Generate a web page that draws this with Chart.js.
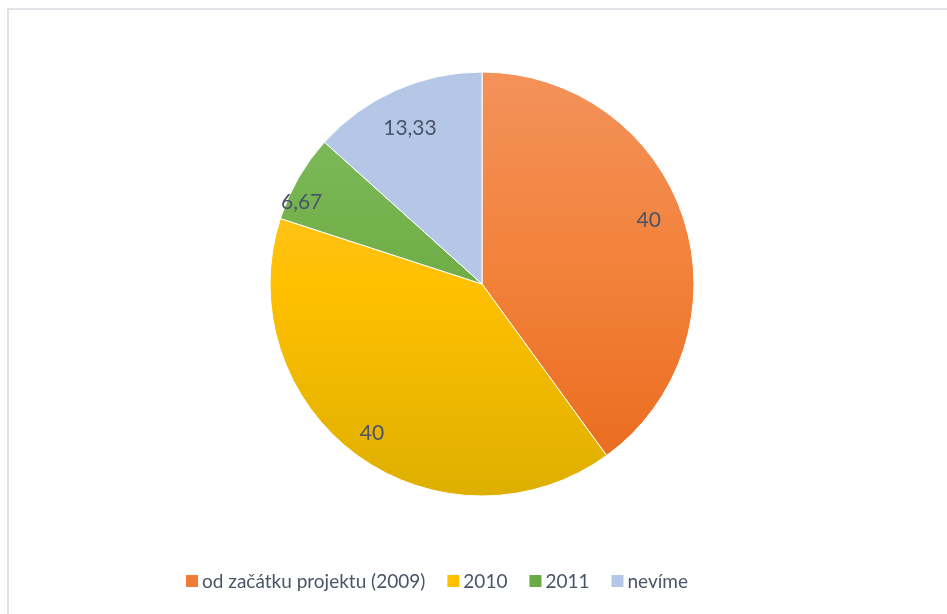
<!DOCTYPE html>
<html><head><meta charset="utf-8">
<script src="https://cdn.jsdelivr.net/npm/chart.js@4"></script>
<style>
html,body{margin:0;padding:0;background:#fff;}
#wrap{position:absolute;left:7px;top:8px;width:960px;height:620px;border:2px solid #e1e5ea;box-sizing:border-box;}
canvas{position:absolute;left:0;top:0;}
</style></head>
<body>
<div id="wrap"></div>
<canvas id="c" width="947" height="614"></canvas>
<script>
const categories = ["od začátku projektu (2009)", "2010", "2011", "nevíme"];
const values = [40, 40, 6.67, 13.33];
const valueLabels = ["40", "40", "6,67", "13,33"];
const topColors = ["#f3925a", "#ffc845", "#80be5f", "#b4c7e7"];
const midColors = ["#f28038", "#ffc000", "#70ad47", "#b4c7e7"];
const bottomColors = ["#e8691b", "#deaf00", "#5f9d36", "#b4c7e7"];
const legendColors = ["#f07b34", "#ffc000", "#6aaa42", "#b4c7e7"];
const labelRadiusFactor = [0.842, 0.874, 0.935, 0.81];
const labelAngleFraction = [0.48, 0.503, 0.27, 0.483];

const TEXT = "#4a5468";
const FONT = "Lato, 'Noto Sans', sans-serif";
const PIE_R = 212;

const labelPlugin = {
  id: 'sliceLabels',
  afterDatasetsDraw(chart) {
    const ctx = chart.ctx;
    const meta = chart.getDatasetMeta(0);
    ctx.save();
    ctx.fillStyle = TEXT;
    ctx.font = "21px " + FONT;
    ctx.textAlign = "center";
    ctx.textBaseline = "middle";
    meta.data.forEach((arc, i) => {
      const p = arc.getProps(['x','y','startAngle','endAngle','outerRadius'], true);
      const a = p.startAngle + (p.endAngle - p.startAngle) * labelAngleFraction[i];
      const r = p.outerRadius * labelRadiusFactor[i];
      ctx.fillText(valueLabels[i], p.x + Math.cos(a) * r, p.y + Math.sin(a) * r);
    });
    ctx.restore();
  }
};

const legendPlugin = {
  id: 'bottomLegend',
  afterDraw(chart) {
    const ctx = chart.ctx;
    ctx.save();
    ctx.font = "19px " + FONT;
    ctx.textBaseline = "middle";
    const box = 12, gapText = 4, gapItem = 22;
    const widths = categories.map(c => ctx.measureText(c).width);
    const total = widths.reduce((s, w) => s + box + gapText + w, 0) + gapItem * (categories.length - 1);
    const centerX = 437, cy = 581;
    let x = centerX - total / 2;
    categories.forEach((c, i) => {
      ctx.fillStyle = legendColors[i];
      ctx.fillRect(x, cy - box / 2, box, box);
      x += box + gapText;
      ctx.fillStyle = TEXT;
      ctx.fillText(c, x, cy + 1);
      x += widths[i] + gapItem;
    });
    ctx.restore();
  }
};

function grad(context) {
  const chart = context.chart;
  const i = context.dataIndex;
  const ca = chart.chartArea;
  if (!ca) return midColors[i];
  const cy = (ca.top + ca.bottom) / 2;
  const g = chart.ctx.createLinearGradient(0, cy - PIE_R, 0, cy + PIE_R);
  g.addColorStop(0, topColors[i]);
  g.addColorStop(0.5, midColors[i]);
  g.addColorStop(1, bottomColors[i]);
  return g;
}

new Chart(document.getElementById('c'), {
  type: 'pie',
  data: {
    labels: categories,
    datasets: [{
      data: values,
      backgroundColor: grad,
      borderColor: '#ffffff',
      borderWidth: 1,
      radius: PIE_R
    }]
  },
  options: {
    responsive: false,
    animation: false,
    layout: { padding: { top: 6, bottom: 52, left: 17, right: 0 } },
    plugins: {
      tooltip: { enabled: false },
      legend: { display: false }
    }
  },
  plugins: [labelPlugin, legendPlugin]
});
</script>
</body></html>
